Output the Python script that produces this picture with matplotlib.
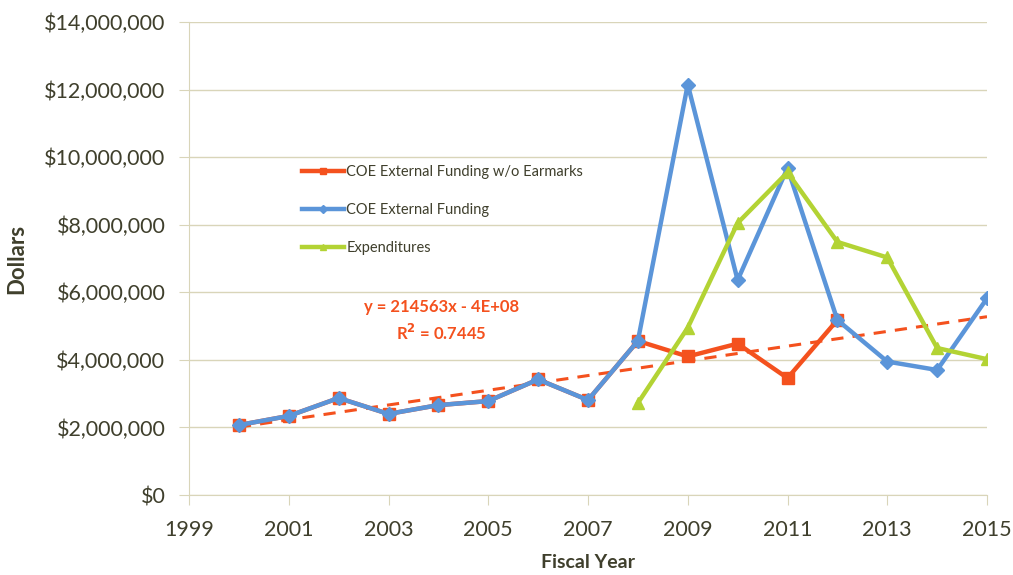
import numpy as np
import matplotlib
matplotlib.use("Agg")
import matplotlib.pyplot as plt
from matplotlib.ticker import FuncFormatter

plt.rcParams['font.family'] = ['Lato', 'DejaVu Sans']

# Fiscal years
years = [2000, 2001, 2002, 2003, 2004, 2005, 2006, 2007,
         2008, 2009, 2010, 2011, 2012, 2013, 2014, 2015]
# COE External Funding (all years)
coe_funding = [2.07e6, 2.34e6, 2.87e6, 2.40e6, 2.66e6, 2.78e6, 3.42e6, 2.81e6,
               4.56e6, 12.15e6, 6.36e6, 9.68e6, 5.18e6, 3.95e6, 3.70e6, 5.82e6]
# COE External Funding w/o Earmarks (2000-2012)
noearmark_years = years[:13]
noearmark_funding = [2.07e6, 2.34e6, 2.87e6, 2.40e6, 2.66e6, 2.78e6, 3.42e6, 2.81e6,
                     4.56e6, 4.10e6, 4.48e6, 3.46e6, 5.18e6]
# Expenditures (2008-2015)
exp_years = years[8:]
expenditures = [2.72e6, 4.95e6, 8.05e6, 9.55e6, 7.49e6, 7.03e6, 4.35e6, 4.02e6]

red = '#f4511e'
blue = '#5b95d9'
green = '#b3d334'
txt = '#3f3f2c'
grid = '#d9d5b9'

fig = plt.figure(figsize=(10.13, 5.75), dpi=100)
ax = fig.add_axes([189/1013, 80/575, (987-189)/1013, (495-22)/575])

ax.plot(noearmark_years, noearmark_funding, color=red, lw=3.2, marker='s', ms=9,
        label='COE External Funding w/o Earmarks', zorder=3)

# linear trendline on the w/o earmarks series, extended to 2015
coef = np.polyfit(noearmark_years, noearmark_funding, 1)
tx = np.array([years[0], years[-1]])
ax.plot(tx, np.polyval(coef, tx), color=red, lw=2.2, ls=(0, (4, 3)), zorder=3.5)

ax.plot(years, coe_funding, color=blue, lw=3.2, marker='D', ms=7.5,
        label='COE External Funding', zorder=4)
ax.plot(exp_years, expenditures, color=green, lw=3.2, marker='^', ms=9,
        label='Expenditures', zorder=5)

ax.text(0.316, 0.368, 'y = 214563x - 4E+08\nR$^{\\mathbf{2}}$ = 0.7445', transform=ax.transAxes,
        color=red, fontsize=12, fontweight='bold', ha='center', va='center',
        linespacing=1.45)

ax.set_xlim(1999, 2015)
ax.set_ylim(0, 14e6)
ax.set_xticks(range(1999, 2016, 2))
ax.set_yticks(np.arange(0, 14.1e6, 2e6))
ax.yaxis.set_major_formatter(FuncFormatter(lambda v, p: '${:,.0f}'.format(v)))
ax.grid(axis='y', color=grid, lw=1)
ax.set_axisbelow(True)
for s in ['top', 'right']:
    ax.spines[s].set_visible(False)
for s in ['left', 'bottom']:
    ax.spines[s].set_color(grid)
ax.tick_params(axis='both', colors=grid, labelcolor=txt, labelsize=15.5, length=7)
ax.tick_params(axis='y', pad=10)
ax.tick_params(axis='x', pad=11)

ax.set_xlabel('Fiscal Year', fontsize=14, fontweight='bold', color=txt, labelpad=10)
ax.set_ylabel('Dollars', fontsize=16, fontweight='bold', color=txt, labelpad=12)

leg = ax.legend(loc='upper left', bbox_to_anchor=(0.125, 0.725), frameon=False,
                fontsize=10.5, labelspacing=1.65, handlelength=2.9, handletextpad=0.15,
                markerscale=0.5)
for t in leg.get_texts():
    t.set_color(txt)

fig.savefig('out.png', dpi=100, facecolor='white')
